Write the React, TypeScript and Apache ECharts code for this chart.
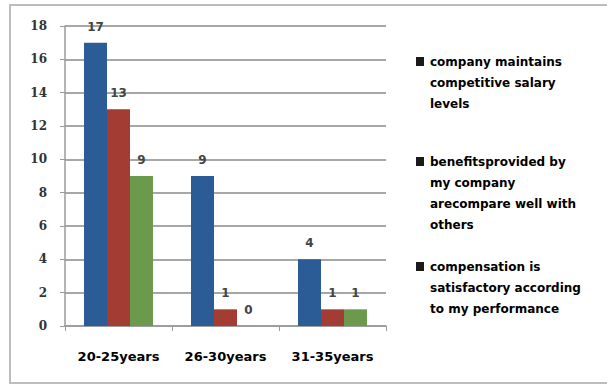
import React, { useEffect, useRef } from "react";
import * as echarts from "echarts";

// Age groups on the x axis
const categories = ["20-25years", "26-30years", "31-35years"];

// Responses per statement
const salaryLevels = [17, 9, 4];
const benefitsCompare = [13, 1, 1];
const compensationSatisfactory = [9, 0, 1];

const seriesNames = [
  "company maintains\ncompetitive salary\nlevels",
  "benefitsprovided by\nmy company\narecompare well with\nothers",
  "compensation is\nsatisfactory according\nto my performance",
];

const yTicks = { min: 0, max: 18, interval: 2 };

const COLORS = ["#2b5c95", "#a33c33", "#6b9a4c"];

export default function App() {
  const ref = useRef<HTMLDivElement>(null);

  useEffect(() => {
    if (!ref.current) return;
    const chart = echarts.init(ref.current, undefined, { renderer: "svg" });

    const values = [salaryLevels, benefitsCompare, compensationSatisfactory];
    const legendTops = [51, 151, 256];

    const legendGraphics: any[] = [];
    seriesNames.forEach((name, i) => {
      legendGraphics.push({
        type: "rect",
        left: 416,
        top: legendTops[i] + 6,
        shape: { width: 8, height: 9 },
        style: { fill: "#1a1a1a" },
      });
      legendGraphics.push({
        type: "text",
        left: 430,
        top: legendTops[i],
        style: {
          text: name,
          fill: "#000",
          font: "bold 12px 'DejaVu Sans'",
          lineHeight: 21,
        },
      });
    });

    chart.setOption({
      animation: false,
      backgroundColor: "#fff",
      grid: { left: 65, right: 221, top: 26, bottom: 59 },
      xAxis: {
        type: "category",
        data: categories,
        axisLine: { lineStyle: { color: "#9a9a9a", width: 1.5 } },
        axisTick: { show: true, length: 5, lineStyle: { color: "#9a9a9a" } },
        axisLabel: {
          margin: 24,
          color: "#000",
          fontFamily: "DejaVu Sans",
          fontWeight: "bold",
          fontSize: 13,
        },
      },
      yAxis: {
        type: "value",
        min: yTicks.min,
        max: yTicks.max,
        interval: yTicks.interval,
        axisLine: { show: true, lineStyle: { color: "#9a9a9a", width: 1.5 } },
        axisTick: { show: true, length: 5, lineStyle: { color: "#9a9a9a" } },
        splitLine: { lineStyle: { color: "#8a8a8a", width: 1.5 } },
        axisLabel: {
          margin: 18,
          color: "#333",
          fontFamily: "DejaVu Serif",
          fontWeight: "bold",
          fontSize: 12,
        },
      },
      series: values.map((data, i) => ({
        type: "bar",
        name: seriesNames[i],
        data,
        barWidth: 23,
        barGap: "0%",
        itemStyle: { color: COLORS[i] },
        label: {
          show: true,
          position: "top",
          distance: 10,
          color: "#444",
          fontFamily: "DejaVu Sans",
          fontWeight: "bold",
          fontSize: 12,
        },
      })),
      graphic: [
        // Frame open on the right: top, left and bottom edges only
        {
          type: "polyline",
          shape: {
            points: [
              [607, 5],
              [10, 5],
              [10, 383],
              [607, 383],
            ],
          },
          style: { fill: "none", stroke: "#bdbdbd", lineWidth: 2 },
          silent: true,
          z: -1,
        },
        ...legendGraphics,
      ],
    });

    return () => chart.dispose();
  }, []);

  return (
    <div
      ref={ref}
      style={{ position: "absolute", left: 0, top: 0, width: 607, height: 385 }}
    />
  );
}
